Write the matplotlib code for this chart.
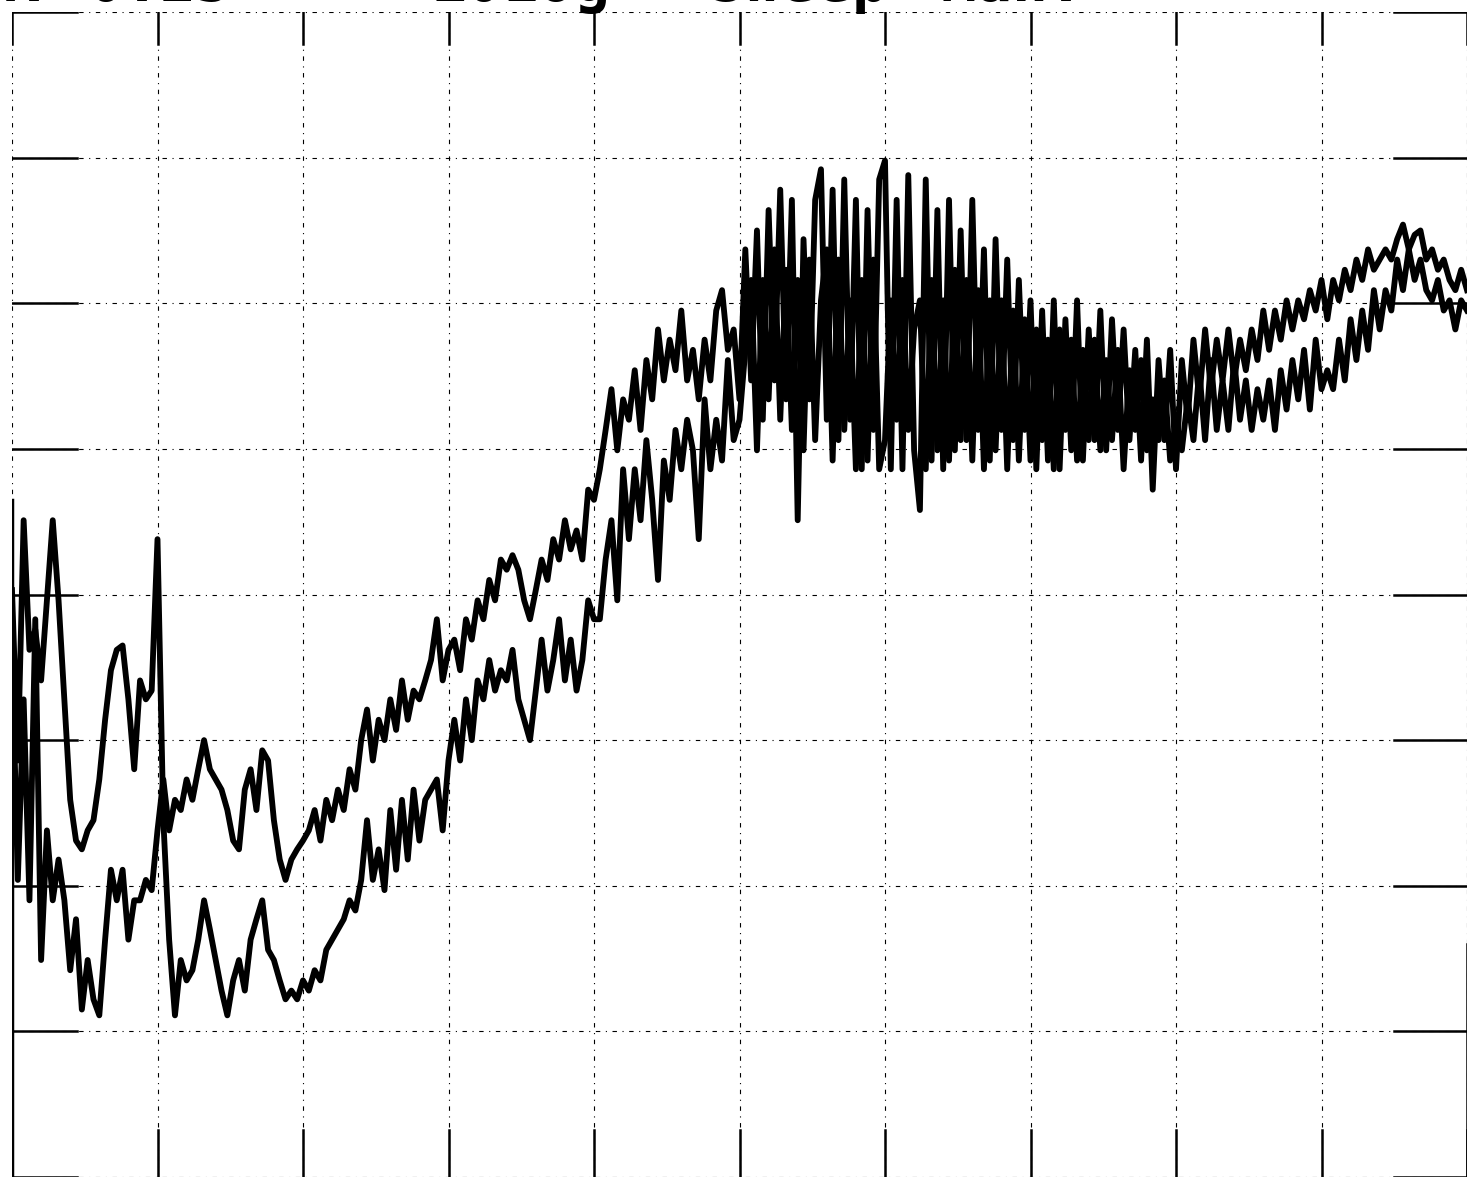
import matplotlib
matplotlib.use("Agg")
import matplotlib.pyplot as plt
import numpy as np

# screen is 10 x 8 divisions, traces sampled every 0.04 div
n_xdiv = 10
n_ydiv = 8

trace_a = [
    # div 0
    4.03, 2.86, 4.51, 3.62, 3.76, 3.41, 3.96, 4.51, 3.96, 3.28, 2.59, 2.31, 2.25,
    2.38, 2.45, 2.73, 3.14, 3.48, 3.62, 3.65, 3.28, 2.80, 3.41, 3.28, 3.34, 4.38,
    # div 1
    2.45, 1.63, 1.11, 1.49, 1.35, 1.42, 1.63, 1.90, 1.70, 1.49, 1.28, 1.11, 1.35,
    1.49, 1.28, 1.63, 1.77, 1.90, 1.56, 1.49, 1.35, 1.22, 1.28, 1.22, 1.35,
    # div 2
    1.28, 1.42, 1.35, 1.56, 1.63, 1.70, 1.77, 1.90, 1.83, 2.04, 2.45, 2.04, 2.25,
    1.97, 2.52, 2.11, 2.59, 2.18, 2.66, 2.31, 2.59, 2.66, 2.73, 2.38, 2.86,
    # div 3
    3.14, 2.86, 3.28, 3.00, 3.41, 3.28, 3.55, 3.34, 3.48, 3.41, 3.62, 3.28, 3.14,
    3.00, 3.34, 3.69, 3.34, 3.55, 3.83, 3.41, 3.69, 3.34, 3.55, 3.96, 3.83,
    # div 4
    3.83, 4.24, 4.51, 3.96, 4.86, 4.38, 4.86, 4.51, 5.06, 4.65, 4.10, 4.92, 4.65,
    5.13, 4.86, 5.20, 4.99, 4.38, 5.34, 4.86, 5.20, 4.92, 5.61, 5.06, 5.20,
    # div 5
    5.68, 6.16, 4.99, 6.16, 5.34, 6.37, 5.20, 6.23, 5.13, 6.16, 4.99, 6.30, 5.06,
    6.02, 6.37, 4.92, 6.30, 5.13, 6.02, 4.86, 6.16, 4.92, 6.30, 4.86, 5.06,
    # div 6
    6.02, 5.20, 6.16, 5.13, 5.82, 6.02, 4.86, 6.16, 4.99, 6.02, 4.92, 6.23, 5.06,
    6.16, 4.92, 6.09, 4.86, 6.02, 4.99, 6.02, 4.86, 5.95, 4.92, 5.89, 4.92,
    # div 7
    5.82, 5.06, 5.75, 4.86, 5.82, 5.13, 5.75, 4.92, 5.68, 5.06, 5.75, 4.99, 5.61,
    5.06, 5.68, 4.86, 5.54, 5.13, 5.61, 4.99, 5.34, 5.06, 5.47, 4.92, 5.20,
    # div 8
    4.99, 5.34, 5.06, 5.54, 5.06, 5.61, 5.13, 5.47, 5.13, 5.61, 5.20, 5.47, 5.13,
    5.41, 5.20, 5.47, 5.13, 5.54, 5.27, 5.61, 5.34, 5.68, 5.27, 5.75, 5.41,
    # div 9
    5.54, 5.41, 5.75, 5.47, 5.89, 5.61, 5.95, 5.68, 6.09, 5.82, 6.09, 5.95, 6.30,
    6.09, 6.37, 6.16, 6.30, 6.09, 6.02, 6.16, 5.95, 6.02, 5.82, 6.02, 5.95,
]

trace_b = [
    # div 0
    3.62, 2.04, 3.28, 1.90, 3.83, 1.49, 2.38, 1.90, 2.18, 1.90, 1.42, 1.77, 1.15,
    1.49, 1.22, 1.11, 1.63, 2.11, 1.90, 2.11, 1.63, 1.90, 1.90, 2.04, 1.97, 2.38,
    # div 1
    2.73, 2.38, 2.59, 2.52, 2.73, 2.59, 2.80, 3.00, 2.80, 2.73, 2.66, 2.52, 2.31,
    2.25, 2.66, 2.80, 2.52, 2.93, 2.86, 2.45, 2.18, 2.04, 2.18, 2.25, 2.31,
    # div 2
    2.38, 2.52, 2.31, 2.59, 2.45, 2.66, 2.52, 2.80, 2.66, 3.00, 3.21, 2.86, 3.14,
    3.00, 3.28, 3.07, 3.41, 3.14, 3.34, 3.28, 3.41, 3.55, 3.83, 3.41, 3.62,
    # div 3
    3.69, 3.48, 3.83, 3.69, 3.96, 3.83, 4.10, 3.96, 4.24, 4.17, 4.27, 4.17, 3.96,
    3.83, 4.03, 4.24, 4.10, 4.38, 4.24, 4.51, 4.31, 4.44, 4.24, 4.72, 4.65,
    # div 4
    4.86, 5.13, 5.41, 4.99, 5.34, 5.20, 5.54, 5.13, 5.61, 5.34, 5.82, 5.47, 5.75,
    5.54, 5.95, 5.47, 5.68, 5.34, 5.75, 5.47, 5.95, 6.09, 5.68, 5.82, 5.34,
    # div 5
    6.37, 5.47, 6.50, 5.20, 6.64, 5.47, 6.78, 5.34, 6.71, 4.51, 6.44, 5.34, 6.71,
    6.92, 5.20, 6.78, 5.06, 6.85, 5.20, 6.71, 4.86, 6.64, 5.13, 6.85, 6.98,
    # div 6
    4.86, 6.71, 4.86, 6.88, 4.99, 4.58, 6.85, 4.92, 6.64, 4.86, 6.71, 4.99, 6.50,
    5.06, 6.71, 5.13, 6.37, 4.92, 6.44, 5.13, 6.30, 5.06, 6.16, 5.13, 6.02,
    # div 7
    4.86, 5.95, 4.92, 6.02, 4.86, 5.89, 4.99, 6.02, 4.92, 5.82, 5.06, 5.95, 4.99,
    5.89, 5.13, 5.82, 5.06, 5.68, 4.92, 5.75, 4.72, 5.61, 5.06, 5.68, 4.86,
    # div 8
    5.61, 5.20, 5.75, 5.34, 5.82, 5.41, 5.75, 5.47, 5.82, 5.47, 5.75, 5.54, 5.82,
    5.61, 5.95, 5.68, 5.95, 5.75, 6.02, 5.82, 6.02, 5.89, 6.09, 5.95, 6.16,
    # div 9
    5.89, 6.16, 6.02, 6.23, 6.09, 6.30, 6.16, 6.37, 6.23, 6.30, 6.37, 6.30, 6.44,
    6.54, 6.37, 6.47, 6.50, 6.30, 6.37, 6.23, 6.30, 6.16, 6.09, 6.23, 6.09,
]

# header text, cut off at the top of the scan
header = ["A: 0.25", "10Log", "Sweep", "Man."]
header_x = [-20, 430, 708, 940]

x = np.linspace(0, n_xdiv, len(trace_a))

fig = plt.figure(figsize=(14.69, 11.77), dpi=100)
ax = fig.add_axes([12 / 1469, 0.0, 1455 / 1469, 1165 / 1177])
ax.set_xlim(0, n_xdiv)
ax.set_ylim(0, n_ydiv)
ax.axis("off")

dash = (0, (4, 5, 1, 5))

# graticule
for gx in range(n_xdiv + 1):
    ax.plot([gx, gx], [0, n_ydiv], color="black", lw=0.8, ls=dash)
    ax.plot([gx, gx], [n_ydiv - 0.22, n_ydiv], color="black", lw=1.8)
    ax.plot([gx, gx], [0, 0.32], color="black", lw=1.8)
for gy in range(n_ydiv + 1):
    ax.plot([0, n_xdiv], [gy, gy], color="black", lw=0.8, ls=dash)
    ax.plot([0, 0.45], [gy, gy], color="black", lw=1.8)
    ax.plot([n_xdiv - 0.5, n_xdiv], [gy, gy], color="black", lw=1.8)
ax.plot([0, 0], [0, 4.65], color="black", lw=2.5)
ax.plot([n_xdiv, n_xdiv], [0, 1.6], color="black", lw=1.8)

ax.plot(x, trace_a, color="black", lw=4.2, solid_joinstyle="round")
ax.plot(x, trace_b, color="black", lw=4.2, solid_joinstyle="round")

for s, px in zip(header, header_x):
    fig.text(px / 1469, 1 - 1 / 1177, s, fontsize=43, family="DejaVu Sans Mono",
             weight="bold", va="baseline", ha="left")

fig.savefig("out.png", dpi=100, facecolor="white")
